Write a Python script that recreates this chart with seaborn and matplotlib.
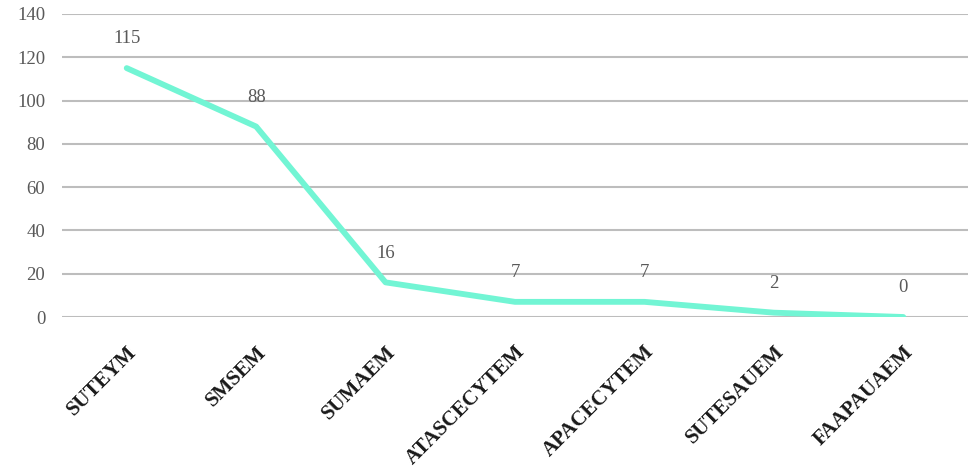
import numpy as np
import pandas as pd
import seaborn as sns
import matplotlib.pyplot as plt

categories = ['SUTEYM', 'SMSEM', 'SUMAEM', 'ATASCECYTEM', 'APACECYTEM', 'SUTESAUEM', 'FAAPAUAEM']
values = [115, 88, 16, 7, 7, 2, 0]
yticks = [0, 20, 40, 60, 80, 100, 120, 140]

sns.set_style('white')
plt.rcParams['font.family'] = ['Liberation Serif', 'DejaVu Serif']

df = pd.DataFrame({'cat': categories, 'val': values})
df['pos'] = np.arange(len(df))

fig = plt.figure(figsize=(9.68, 4.71), dpi=100)
ax = fig.add_axes([62 / 968, 1 - 317 / 471, 1 - 62 / 968, (317 - 14) / 471])

for y in yticks:
    ax.axhline(y, color='#bdbdbd', lw=1.5, zorder=0)

sns.lineplot(data=df, x='pos', y='val', ax=ax, color='#72f5d4', lw=4.2, zorder=3)

for p, v in zip(df['pos'], df['val']):
    ax.annotate(str(v), (p, v), xytext=(0, 15), textcoords='offset points',
                ha='center', va='bottom', fontsize=13.5, color='#595959')

ax.set_xlim(-0.5, len(categories) - 0.5)
ax.set_ylim(0, 140)
ax.set_yticks(yticks)
ax.set_yticklabels([str(t) for t in yticks], fontsize=13.5, color='#595959')
ax.set_xticks(df['pos'])
ax.set_xticklabels(categories, rotation=45, ha='right', rotation_mode='anchor',
                   fontsize=15, fontweight='bold', color='#1a1a1a')
ax.tick_params(axis='y', length=0, pad=12)
ax.tick_params(axis='x', length=0, pad=18)
ax.set_xlabel('')
ax.set_ylabel('')
sns.despine(ax=ax, left=True, bottom=True)

fig.savefig('out.png', dpi=100)
